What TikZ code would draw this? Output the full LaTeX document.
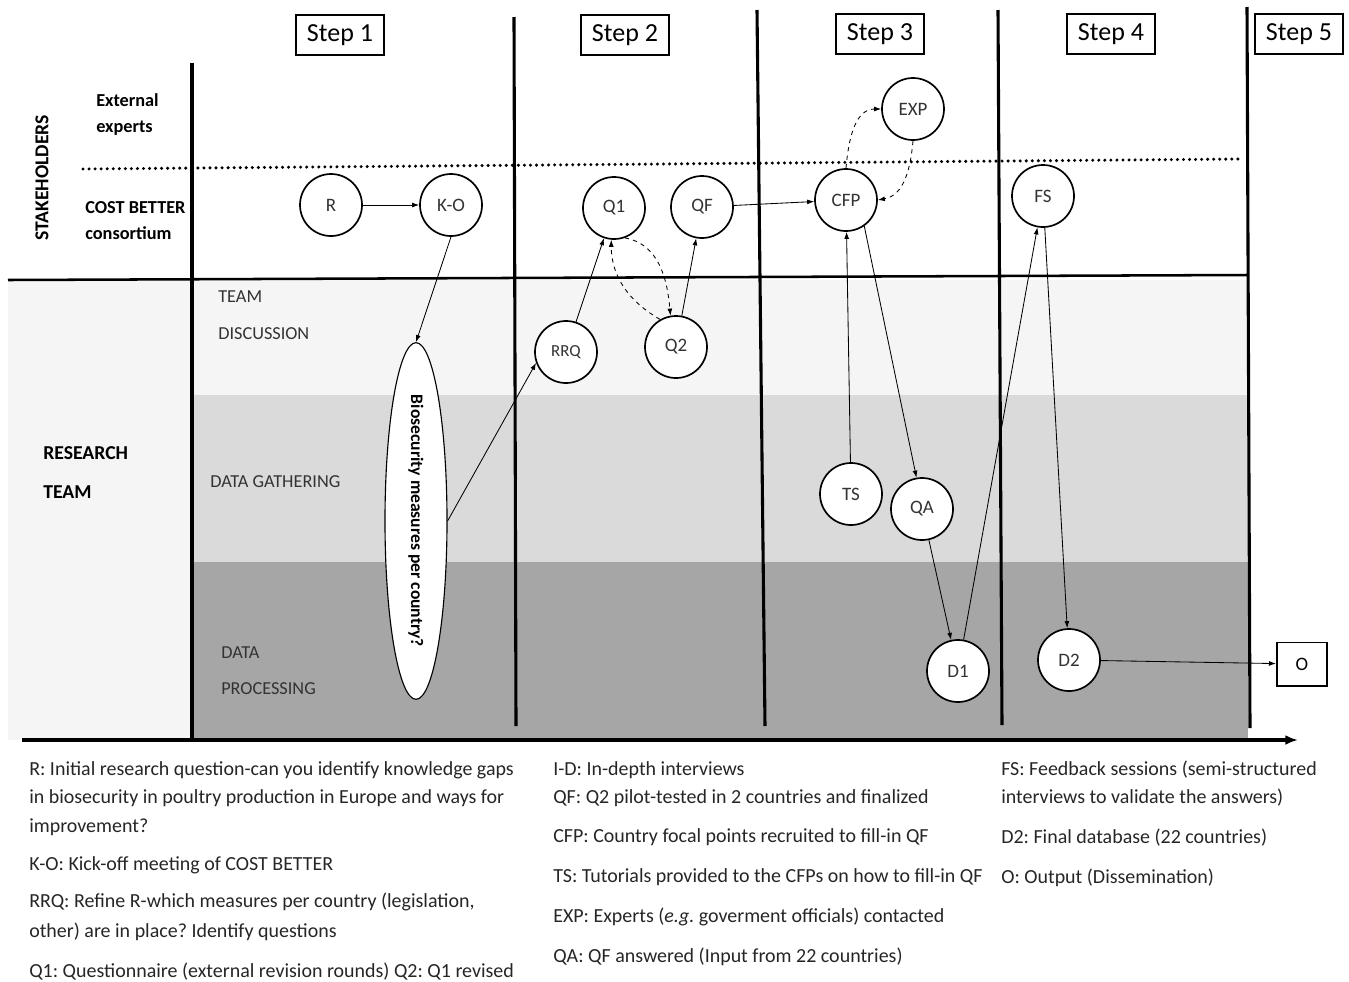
\documentclass[tikz,border=0pt]{standalone}
\usepackage{fontspec}
\setmainfont{Carlito}
\usetikzlibrary{arrows.meta,shapes.geometric}
\frenchspacing

\begin{document}
\begin{tikzpicture}[x=0.025cm,y=-0.025cm,
  stage/.style={circle,draw,line width=1.2pt,fill=white,minimum size=1.55cm,inner sep=0pt,text=black!80,font=\fontsize{13.5}{16}\selectfont},
  stepbox/.style={draw,line width=1.4pt,minimum width=2.2cm,minimum height=1cm,inner sep=0pt,font=\fontsize{18.5}{22}\selectfont},
  flow/.style={-{Latex[length=5pt,width=3.5pt]},line width=0.6pt},
  revise/.style={flow,dashed},
  side/.style={anchor=base west,inner sep=0pt,font=\fontsize{13}{15}\selectfont\bfseries},
  lane/.style={anchor=base west,inner sep=0pt,text=black!80,font=\fontsize{13}{15}\selectfont},
  legend/.style={anchor=base west,inner sep=0pt,text=black!85,font=\fontsize{14.2}{17}\selectfont},
  bar/.style={line width=2.2pt}]
\useasboundingbox (0,0) rectangle (1349,981);

% lanes
\fill[black!4] (8,280) rectangle (1248,740);
\fill[black!14.5] (192,395) rectangle (1248,562);
\fill[black!35] (192,562) rectangle (1248,740);

\draw[bar] (192,63) -- (192,740);
\draw[bar] (514,17) -- (516,726);
\draw[bar] (757,10) -- (765,726);
\draw[bar] (998,10) -- (1002,725);
\draw[bar] (1247,7) -- (1250,728);
\draw[line width=1.8pt] (8,280) -- (1248,275);
\draw[line width=2.4pt,line cap=round,dash pattern=on 0pt off 4.3pt] (83,169) -- (1240,159);
\draw[line width=2.2pt,-{Latex[length=9pt,width=7pt]}] (22,740) -- (1298,740);

\node[rotate=90,font=\fontsize{14}{16}\selectfont\bfseries] (stake) at (42,178) {STAKEHOLDERS};
\node[side] (ext1) at (96,106) {External};
\node[side] (ext2) at (96,132) {experts};
\node[side] (cost1) at (85,213) {COST BETTER};
\node[side] (cost2) at (85,239) {consortium};
\node[side,font=\fontsize{14}{16}\selectfont\bfseries] (res1) at (43,459) {RESEARCH};
\node[side,font=\fontsize{14}{16}\selectfont\bfseries] (res2) at (43,498) {TEAM};
\node[lane] (disc1) at (218,302) {TEAM};
\node[lane] (disc2) at (218,339) {DISCUSSION};
\node[lane] (gath) at (210,487) {DATA GATHERING};
\node[lane] (proc1) at (221,658) {DATA};
\node[lane] (proc2) at (221,694) {PROCESSING};

\node[stepbox] (s1) at (340,35) {Step 1};
\node[stepbox] (s2) at (625,35) {Step 2};
\node[stepbox] (s3) at (880,34) {Step 3};
\node[stepbox] (s4) at (1111,34) {Step 4};
\node[stepbox] (s5) at (1299,34) {Step 5};

% stages
\node[stage] (r) at (331,205) {R};
\node[stage] (ko) at (451,205) {K-O};
\node[stage] (q1) at (614,208) {Q1};
\node[stage] (qf) at (702,207) {QF};
\node[stage] (cfp) at (846,200) {CFP};
\node[stage] (exp) at (913,109) {EXP};
\node[stage] (fs) at (1043,196) {FS};
\node[stage,font=\fontsize{12}{14}\selectfont] (rrq) at (566,352) {RRQ};
\node[stage] (q2) at (676,347) {Q2};
\node[stage] (ts) at (851,494) {TS};
\node[stage] (qa) at (922,509) {QA};
\node[stage] (d1) at (958,671) {D1};
\node[stage] (d2) at (1069,660) {D2};
\node[draw,line width=1.4pt,fill=white,minimum width=1.25cm,minimum height=1.075cm,font=\fontsize{13.5}{16}\selectfont] (o) at (1302,664) {O};
\node[ellipse,draw,line width=0.8pt,fill=white,rotate=-90,minimum width=8.3cm,minimum height=1.55cm,inner sep=0pt,font=\fontsize{12.5}{15}\selectfont\bfseries] (bio) at (416,521) {Biosecurity measures per country?};

% connectors
\draw[flow] (r) -- (ko);
\draw[flow] (ko.south) -- (bio.west);
\draw[flow] (bio.north) -- (rrq.200);
\draw[flow] (rrq) -- (q1);
\draw[flow] (q2) -- (qf);
\draw[flow] (qf) -- (cfp);
\draw[flow] (ts) -- (cfp);
\draw[flow] (cfp.-55) -- (qa.100);
\draw[flow] (qa) -- (d1);
\draw[flow] (d1) -- (fs);
\draw[flow] (fs) -- (d2);
\draw[flow] (d2) -- (o);
\draw[revise] (q2.120) to[out=150,in=-90] (q1.-95);
\draw[revise] (q1.-70) to[out=-10,in=95] (q2.100);
\draw[revise] (cfp.north) to[out=85,in=180] (exp.west);
\draw[revise] (exp.south) to[out=-95,in=10] (cfp.east);

% legend
\node[legend] (leg1) at (29,775) {R: Initial research question-can you identify knowledge gaps};
\node[legend] (leg2) at (29,803) {in biosecurity in poultry production in Europe and ways for};
\node[legend] (leg3) at (29,832) {improvement?};
\node[legend] (leg4) at (29,870) {K-O: Kick-off meeting of COST BETTER};
\node[legend] (leg5) at (29,907) {RRQ: Refine R-which measures per country (legislation,};
\node[legend] (leg6) at (29,937) {other) are in place? Identify questions};
\node[legend] (leg7) at (29,977) {Q1: Questionnaire (external revision rounds) Q2: Q1 revised};
\node[legend] (leg8) at (553,775) {I-D: In-depth interviews};
\node[legend] (leg9) at (553,803) {QF: Q2 pilot-tested in 2 countries and finalized};
\node[legend] (leg10) at (553,842) {CFP: Country focal points recruited to fill-in QF};
\node[legend] (leg11) at (553,882) {TS: Tutorials provided to the CFPs on how to fill-in QF};
\node[legend] (leg12) at (553,922) {EXP: Experts (\textit{e.g.} goverment officials) contacted};
\node[legend] (leg13) at (553,962) {QA: QF answered (Input from 22 countries)};
\node[legend] (leg14) at (1001,775) {FS: Feedback sessions (semi-structured};
\node[legend] (leg15) at (1001,803) {interviews to validate the answers)};
\node[legend] (leg16) at (1001,843) {D2: Final database (22 countries)};
\node[legend] (leg17) at (1001,883) {O: Output (Dissemination)};
\end{tikzpicture}
\end{document}
